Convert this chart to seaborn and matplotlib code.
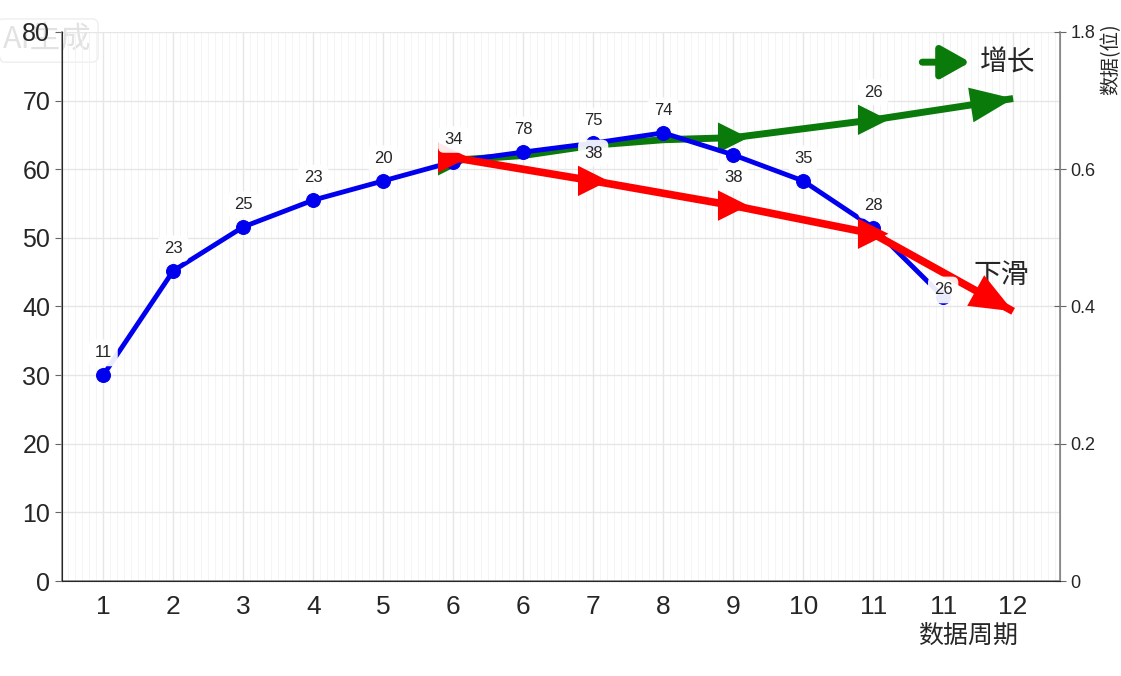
import matplotlib
matplotlib.use("Agg")
import matplotlib.pyplot as plt
from matplotlib.ticker import MultipleLocator
import seaborn as sns
import pandas as pd

# ---------------------------------------------------------------------------
# DONNEES
# ---------------------------------------------------------------------------
x_labels = ["1", "2", "3", "4", "5", "6", "6", "7", "8", "9", "10", "11", "11", "12"]

blue_pos = list(range(13))
blue_values = [30, 45.2, 51.6, 55.5, 58.3, 61.1, 62.5, 63.8, 65.3, 62.1, 58.3, 51.5, 41.4]
blue_labels = ["11", "23", "25", "23", "20", "34", "78", "75", "74", "38", "35", "28", "26"]

green_pos = [5, 6, 7, 8, 9, 11, 13]
green_values = [61.3, 62.0, 63.5, 64.3, 64.6, 67.2, 70.3]
green_marked = [5, 9, 11]

red_pos = [5, 7, 9, 11, 13]
red_values = [61.7, 58.3, 54.7, 50.6, 39.3]
red_marked = [5, 7, 9, 11]

extra_labels = [("38", 7, 58.3), ("38", 9, 54.7), ("26", 11, 67.2)]

right_ticks = [0, 0.2, 0.4, 0.6, 0.8]
right_ticklabels = ["0", "0.2", "0.4", "0.6", "1.8"]

# ---------------------------------------------------------------------------
# STYLE
# ---------------------------------------------------------------------------
sns.set_style("white")
plt.rcParams["font.family"] = ["Liberation Sans", "Noto Sans CJK SC", "DejaVu Sans"]
cjk = ["Noto Sans CJK SC", "DejaVu Sans"]
GREEN = "#0a7a0a"
RED = "#ff0000"
BLUE = "#0000ee"

fig = plt.figure(figsize=(11.21, 6.76), dpi=100)
ax = fig.add_axes([0.0553, 0.1405, 0.8903, 0.8122])
ax.patch.set_alpha(0)

blue_df = pd.DataFrame({"pos": blue_pos, "val": blue_values})
green_df = pd.DataFrame({"pos": green_pos, "val": green_values})
red_df = pd.DataFrame({"pos": red_pos, "val": red_values})

# grille
ax.xaxis.set_minor_locator(MultipleLocator(0.1))
ax.grid(True, which="major", color="#e6e6e6", lw=1.0, zorder=0)
ax.grid(True, which="minor", axis="x", color="#f3f3f3", lw=0.6, zorder=0)

# lignes verte et rouge (tendances)
sns.lineplot(data=green_df, x="pos", y="val", ax=ax, color=GREEN, lw=5, zorder=2,
             solid_capstyle="butt")
sns.lineplot(data=red_df, x="pos", y="val", ax=ax, color=RED, lw=5.5, zorder=4,
             solid_capstyle="butt")

gm = green_df[green_df["pos"].isin(green_marked)]
rm = red_df[red_df["pos"].isin(red_marked)]
sns.scatterplot(data=gm, x="pos", y="val", ax=ax, marker=">", s=480, color=GREEN,
                edgecolor="none", zorder=2)
sns.scatterplot(data=rm, x="pos", y="val", ax=ax, marker=">", s=480, color=RED,
                edgecolor="none", zorder=4)

# pointes de fleche en bout de ligne
for pos, val, col, z in [(green_pos, green_values, GREEN, 2), (red_pos, red_values, RED, 4)]:
    ax.annotate("", xy=(pos[-1], val[-1]), xytext=(pos[-2], val[-2]),
                arrowprops=dict(arrowstyle="-|>,head_length=1.1,head_width=0.45",
                                mutation_scale=28, color=col, lw=0,
                                shrinkA=0, shrinkB=0), zorder=z)

# ligne bleue
sns.lineplot(data=blue_df, x="pos", y="val", ax=ax, color=BLUE, lw=3.5, marker="o",
             markersize=10, markeredgecolor=BLUE, zorder=3)

# etiquettes
box = dict(boxstyle="round,pad=0.35", fc="white", ec="none", alpha=0.92)
for i, (p, v, t) in enumerate(zip(blue_pos, blue_values, blue_labels)):
    dy = 16
    if i == 9:
        dy = -16
    if i == 12:
        dy = 5
    ax.annotate(t, (p, v), xytext=(0, dy), textcoords="offset points", ha="center",
                va="center", fontsize=12, bbox=box, zorder=6)
for t, p, v in extra_labels:
    ax.annotate(t, (p, v), xytext=(0, 20), textcoords="offset points", ha="center",
                va="center", fontsize=12, bbox=box, zorder=6)

# axes
ax.set_xlim(-0.59, 13.67)
ax.set_ylim(0, 80)
ax.set_xticks(range(len(x_labels)))
ax.set_xticklabels(x_labels, fontsize=19)
ax.set_yticks(range(0, 81, 10))
ax.tick_params(axis="y", labelsize=18, direction="out", length=5, color="#666666")
ax.tick_params(axis="x", which="major", direction="in", length=6, color="#666666", pad=10)
ax.tick_params(axis="x", which="minor", length=0)
ax.set_xlabel("")
ax.set_ylabel("")
ax.spines["top"].set_visible(False)
for s in ["left", "bottom", "right"]:
    ax.spines[s].set_color("#888888")
    ax.spines[s].set_linewidth(1.2)

ax2 = ax.twinx()
ax2.patch.set_alpha(0)
ax2.set_ylim(0, 0.8)
ax2.set_yticks(right_ticks)
ax2.set_yticklabels(right_ticklabels, fontsize=13)
ax2.tick_params(axis="y", direction="inout", length=8, color="#666666")
ax2.spines["top"].set_visible(False)
ax2.spines["right"].set_color("#888888")
ax2.set_ylabel("数据(位)", fontsize=14, family=cjk)
ax2.yaxis.set_label_coords(1.04, 0.95)

ax.text(0.908, -0.10, "数据周期", transform=ax.transAxes, ha="center", va="center",
        fontsize=18, family=cjk)

# legende manuelle
ax.annotate("", xy=(0.910, 0.945), xytext=(0.862, 0.945), xycoords="axes fraction",
            arrowprops=dict(arrowstyle="-|>,head_length=0.8,head_width=0.45",
                            mutation_scale=22, color=GREEN, lw=5, shrinkA=0, shrinkB=0))
ax.text(0.92, 0.945, "增长", transform=ax.transAxes, ha="left", va="center",
        fontsize=20, family=cjk)
ax.text(0.913, 0.557, "下滑", transform=ax.transAxes, ha="left", va="center",
        fontsize=20, family=cjk)

# filigrane
fig.text(0.003, 0.94, "AI生成", fontsize=22, color="#e2e2e2", family=cjk, va="center",
         zorder=-1, bbox=dict(boxstyle="round,pad=0.2", fc="none", ec="#eeeeee"))

fig.savefig("out.png", dpi=100)
plt.close(fig)
